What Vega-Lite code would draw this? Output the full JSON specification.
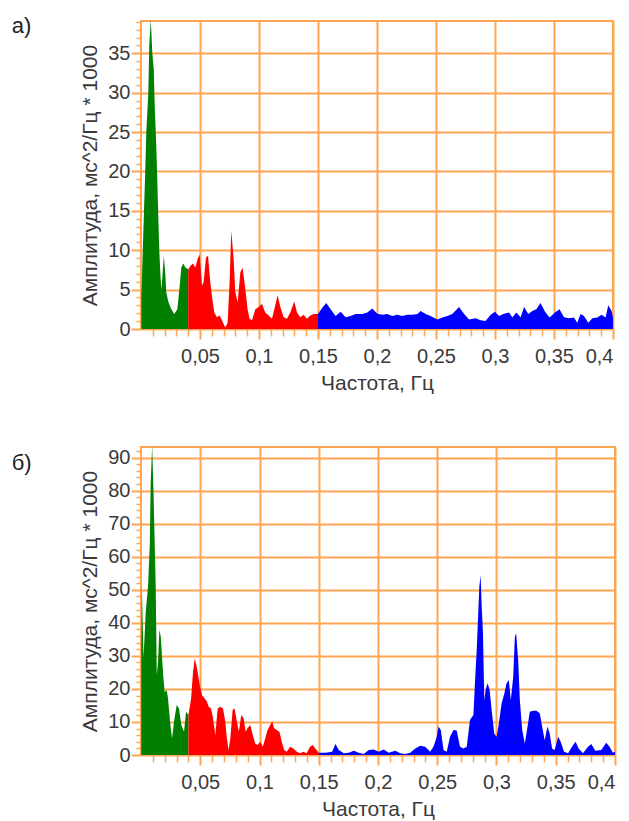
{
  "$schema": "https://vega.github.io/schema/vega-lite/v6.json",
  "background": "white",
  "padding": {"left": 10, "top": 14, "right": 5, "bottom": 2},
  "spacing": 52,
  "config": {
    "view": {"stroke": "#FFA552", "strokeWidth": 2},
    "axis": {
      "domain": false,
      "gridColor": "#FFA552",
      "gridWidth": 2,
      "tickColor": "#FFA552",
      "labelFont": "Liberation Sans",
      "labelFontSize": 20,
      "labelColor": "#3a3a3a",
      "labelOverlap": false,
      "titleFont": "Liberation Sans",
      "titleFontSize": 21,
      "titleFontWeight": "normal",
      "titleColor": "#3a3a3a"
    },
    "title": {"font": "Liberation Sans", "fontSize": 22, "fontWeight": "normal", "color": "#222222"}
  },
  "datasets": {
    "a": [
      {"f":0.0003,"v":4,"b":"VLF"},{"f":0.0019,"v":12,"b":"VLF"},{"f":0.0036,"v":20,"b":"VLF"},{"f":0.0045,"v":25,"b":"VLF"},{"f":0.0062,"v":30,"b":"VLF"},{"f":0.007,"v":36,"b":"VLF"},{"f":0.0083,"v":39.3,"b":"VLF"},{"f":0.0096,"v":35,"b":"VLF"},{"f":0.0108,"v":33,"b":"VLF"},{"f":0.0117,"v":28,"b":"VLF"},{"f":0.013,"v":23,"b":"VLF"},{"f":0.0138,"v":19,"b":"VLF"},{"f":0.0147,"v":14,"b":"VLF"},{"f":0.0155,"v":10,"b":"VLF"},{"f":0.0164,"v":7,"b":"VLF"},{"f":0.0172,"v":5,"b":"VLF"},{"f":0.0181,"v":6.5,"b":"VLF"},{"f":0.0193,"v":9.3,"b":"VLF"},{"f":0.0206,"v":7,"b":"VLF"},{"f":0.0214,"v":4.7,"b":"VLF"},{"f":0.0231,"v":3.5,"b":"VLF"},{"f":0.0257,"v":2.5,"b":"VLF"},{"f":0.0282,"v":1.9,"b":"VLF"},{"f":0.0308,"v":2.5,"b":"VLF"},{"f":0.0325,"v":5,"b":"VLF"},{"f":0.0342,"v":7.8,"b":"VLF"},{"f":0.0359,"v":8.3,"b":"VLF"},{"f":0.0376,"v":7.8,"b":"VLF"},{"f":0.04,"v":7.6,"b":"VLF"},
      {"f":0.04,"v":7.6,"b":"LF"},{"f":0.0418,"v":8.0,"b":"LF"},{"f":0.0441,"v":8.3,"b":"LF"},{"f":0.046,"v":7.8,"b":"LF"},{"f":0.048,"v":8.9,"b":"LF"},{"f":0.0497,"v":9.5,"b":"LF"},{"f":0.0517,"v":5.5,"b":"LF"},{"f":0.0531,"v":6.0,"b":"LF"},{"f":0.0551,"v":9.1,"b":"LF"},{"f":0.0568,"v":9.3,"b":"LF"},{"f":0.0587,"v":6.0,"b":"LF"},{"f":0.0601,"v":4.2,"b":"LF"},{"f":0.0621,"v":2.1,"b":"LF"},{"f":0.0644,"v":1.5,"b":"LF"},{"f":0.0666,"v":1.7,"b":"LF"},{"f":0.0686,"v":1.1,"b":"LF"},{"f":0.0714,"v":0.2,"b":"LF"},{"f":0.0734,"v":0.8,"b":"LF"},{"f":0.0751,"v":6.0,"b":"LF"},{"f":0.0765,"v":12.5,"b":"LF"},{"f":0.0785,"v":8.9,"b":"LF"},{"f":0.0799,"v":4.7,"b":"LF"},{"f":0.0819,"v":3.4,"b":"LF"},{"f":0.0842,"v":7.2,"b":"LF"},{"f":0.0861,"v":7.8,"b":"LF"},{"f":0.0884,"v":5.1,"b":"LF"},{"f":0.0903,"v":2.5,"b":"LF"},{"f":0.092,"v":1.3,"b":"LF"},{"f":0.0941,"v":1.1,"b":"LF"},{"f":0.0969,"v":2.5,"b":"LF"},{"f":0.0997,"v":2.8,"b":"LF"},{"f":0.1025,"v":3.2,"b":"LF"},{"f":0.1053,"v":2.1,"b":"LF"},{"f":0.1081,"v":1.7,"b":"LF"},{"f":0.111,"v":1.3,"b":"LF"},{"f":0.1138,"v":3.0,"b":"LF"},{"f":0.1158,"v":4.3,"b":"LF"},{"f":0.1181,"v":2.8,"b":"LF"},{"f":0.1209,"v":1.5,"b":"LF"},{"f":0.1237,"v":1.3,"b":"LF"},{"f":0.1265,"v":2.1,"b":"LF"},{"f":0.1299,"v":3.5,"b":"LF"},{"f":0.1322,"v":2.1,"b":"LF"},{"f":0.135,"v":1.5,"b":"LF"},{"f":0.1378,"v":1.8,"b":"LF"},{"f":0.1407,"v":1.3,"b":"LF"},{"f":0.1435,"v":1.7,"b":"LF"},{"f":0.1463,"v":1.9,"b":"LF"},{"f":0.15,"v":1.9,"b":"LF"},
      {"f":0.15,"v":1.9,"b":"HF"},{"f":0.1536,"v":2.7,"b":"HF"},{"f":0.157,"v":3.3,"b":"HF"},{"f":0.1607,"v":2.5,"b":"HF"},{"f":0.1649,"v":1.65,"b":"HF"},{"f":0.1692,"v":2.2,"b":"HF"},{"f":0.1734,"v":1.5,"b":"HF"},{"f":0.1776,"v":1.65,"b":"HF"},{"f":0.1819,"v":1.9,"b":"HF"},{"f":0.1875,"v":1.9,"b":"HF"},{"f":0.1918,"v":2.1,"b":"HF"},{"f":0.196,"v":2.6,"b":"HF"},{"f":0.2003,"v":1.95,"b":"HF"},{"f":0.2045,"v":1.8,"b":"HF"},{"f":0.2087,"v":1.9,"b":"HF"},{"f":0.213,"v":1.65,"b":"HF"},{"f":0.2172,"v":1.8,"b":"HF"},{"f":0.2214,"v":1.65,"b":"HF"},{"f":0.2257,"v":1.8,"b":"HF"},{"f":0.2299,"v":1.8,"b":"HF"},{"f":0.2342,"v":1.9,"b":"HF"},{"f":0.237,"v":2.3,"b":"HF"},{"f":0.2412,"v":1.9,"b":"HF"},{"f":0.2454,"v":1.65,"b":"HF"},{"f":0.2511,"v":1.2,"b":"HF"},{"f":0.2553,"v":1.45,"b":"HF"},{"f":0.2596,"v":1.65,"b":"HF"},{"f":0.2638,"v":1.9,"b":"HF"},{"f":0.2695,"v":2.8,"b":"HF"},{"f":0.2737,"v":1.95,"b":"HF"},{"f":0.278,"v":1.2,"b":"HF"},{"f":0.2836,"v":1.35,"b":"HF"},{"f":0.2878,"v":1.1,"b":"HF"},{"f":0.292,"v":1.0,"b":"HF"},{"f":0.2963,"v":1.8,"b":"HF"},{"f":0.3,"v":2.2,"b":"HF"},{"f":0.3034,"v":1.65,"b":"HF"},{"f":0.3076,"v":1.95,"b":"HF"},{"f":0.3119,"v":2.1,"b":"HF"},{"f":0.3147,"v":1.45,"b":"HF"},{"f":0.318,"v":2.1,"b":"HF"},{"f":0.3217,"v":1.5,"b":"HF"},{"f":0.3246,"v":2.8,"b":"HF"},{"f":0.3282,"v":1.9,"b":"HF"},{"f":0.3316,"v":2.3,"b":"HF"},{"f":0.335,"v":2.5,"b":"HF"},{"f":0.3386,"v":3.3,"b":"HF"},{"f":0.3424,"v":2.2,"b":"HF"},{"f":0.3463,"v":1.45,"b":"HF"},{"f":0.3508,"v":2.1,"b":"HF"},{"f":0.3547,"v":2.5,"b":"HF"},{"f":0.3585,"v":1.5,"b":"HF"},{"f":0.3627,"v":1.35,"b":"HF"},{"f":0.3669,"v":1.45,"b":"HF"},{"f":0.3697,"v":0.8,"b":"HF"},{"f":0.3725,"v":1.9,"b":"HF"},{"f":0.3754,"v":1.65,"b":"HF"},{"f":0.3791,"v":0.8,"b":"HF"},{"f":0.3825,"v":1.35,"b":"HF"},{"f":0.3867,"v":1.45,"b":"HF"},{"f":0.3903,"v":1.8,"b":"HF"},{"f":0.3937,"v":1.45,"b":"HF"},{"f":0.396,"v":3.0,"b":"HF"},{"f":0.3988,"v":2.3,"b":"HF"},{"f":0.4,"v":1.45,"b":"HF"}
    ],
    "b": [
      {"f":0.0002,"v":30,"b":"VLF"},{"f":0.0007,"v":51.4,"b":"VLF"},{"f":0.0021,"v":29.3,"b":"VLF"},{"f":0.004,"v":43.3,"b":"VLF"},{"f":0.006,"v":51.4,"b":"VLF"},{"f":0.0074,"v":63.5,"b":"VLF"},{"f":0.0082,"v":82.6,"b":"VLF"},{"f":0.0094,"v":93.5,"b":"VLF"},{"f":0.0105,"v":80.6,"b":"VLF"},{"f":0.0116,"v":63.5,"b":"VLF"},{"f":0.0124,"v":51.4,"b":"VLF"},{"f":0.0133,"v":24.2,"b":"VLF"},{"f":0.0144,"v":28.2,"b":"VLF"},{"f":0.0155,"v":37.8,"b":"VLF"},{"f":0.0167,"v":35.8,"b":"VLF"},{"f":0.0178,"v":29.3,"b":"VLF"},{"f":0.0189,"v":23.2,"b":"VLF"},{"f":0.02,"v":19.1,"b":"VLF"},{"f":0.0217,"v":19.6,"b":"VLF"},{"f":0.0228,"v":17.1,"b":"VLF"},{"f":0.0245,"v":10.1,"b":"VLF"},{"f":0.0262,"v":5.0,"b":"VLF"},{"f":0.0279,"v":10.1,"b":"VLF"},{"f":0.0301,"v":15.1,"b":"VLF"},{"f":0.0321,"v":14.1,"b":"VLF"},{"f":0.034,"v":9.1,"b":"VLF"},{"f":0.0363,"v":7.0,"b":"VLF"},{"f":0.038,"v":13.1,"b":"VLF"},{"f":0.04,"v":12.1,"b":"VLF"},
      {"f":0.04,"v":12.1,"b":"LF"},{"f":0.0423,"v":17.1,"b":"LF"},{"f":0.0439,"v":25.2,"b":"LF"},{"f":0.0454,"v":29.3,"b":"LF"},{"f":0.0473,"v":26.2,"b":"LF"},{"f":0.0496,"v":21.2,"b":"LF"},{"f":0.0515,"v":18.1,"b":"LF"},{"f":0.0538,"v":17.1,"b":"LF"},{"f":0.0557,"v":16.1,"b":"LF"},{"f":0.0571,"v":14.6,"b":"LF"},{"f":0.0591,"v":14.1,"b":"LF"},{"f":0.0608,"v":11.1,"b":"LF"},{"f":0.0627,"v":6.0,"b":"LF"},{"f":0.0647,"v":14.1,"b":"LF"},{"f":0.0669,"v":14.6,"b":"LF"},{"f":0.0692,"v":14.1,"b":"LF"},{"f":0.0711,"v":10.1,"b":"LF"},{"f":0.0725,"v":5.0,"b":"LF"},{"f":0.0739,"v":1.5,"b":"LF"},{"f":0.0754,"v":5.0,"b":"LF"},{"f":0.0773,"v":13.6,"b":"LF"},{"f":0.079,"v":14.1,"b":"LF"},{"f":0.0809,"v":10.1,"b":"LF"},{"f":0.0826,"v":7.0,"b":"LF"},{"f":0.0846,"v":12.1,"b":"LF"},{"f":0.0866,"v":11.1,"b":"LF"},{"f":0.0883,"v":7.0,"b":"LF"},{"f":0.0899,"v":8.1,"b":"LF"},{"f":0.0922,"v":9.1,"b":"LF"},{"f":0.0944,"v":6.0,"b":"LF"},{"f":0.0964,"v":3.5,"b":"LF"},{"f":0.0983,"v":3.0,"b":"LF"},{"f":0.1006,"v":4.0,"b":"LF"},{"f":0.1028,"v":2.5,"b":"LF"},{"f":0.1048,"v":5.0,"b":"LF"},{"f":0.1068,"v":7.6,"b":"LF"},{"f":0.109,"v":9.1,"b":"LF"},{"f":0.1107,"v":10.1,"b":"LF"},{"f":0.1124,"v":8.1,"b":"LF"},{"f":0.1146,"v":7.6,"b":"LF"},{"f":0.1168,"v":7.0,"b":"LF"},{"f":0.1188,"v":4.0,"b":"LF"},{"f":0.1208,"v":1.5,"b":"LF"},{"f":0.123,"v":1.0,"b":"LF"},{"f":0.1258,"v":2.5,"b":"LF"},{"f":0.1286,"v":2.0,"b":"LF"},{"f":0.1315,"v":1.0,"b":"LF"},{"f":0.1342,"v":0.5,"b":"LF"},{"f":0.1371,"v":1.0,"b":"LF"},{"f":0.1398,"v":0.5,"b":"LF"},{"f":0.1426,"v":2.5,"b":"LF"},{"f":0.1449,"v":3.0,"b":"LF"},{"f":0.1471,"v":2.0,"b":"LF"},{"f":0.15,"v":0.7,"b":"LF"},
      {"f":0.15,"v":0.7,"b":"HF"},{"f":0.1557,"v":0.7,"b":"HF"},{"f":0.1613,"v":1.0,"b":"HF"},{"f":0.1641,"v":3.3,"b":"HF"},{"f":0.1669,"v":1.5,"b":"HF"},{"f":0.1711,"v":0.5,"b":"HF"},{"f":0.1754,"v":0.7,"b":"HF"},{"f":0.1796,"v":1.3,"b":"HF"},{"f":0.1838,"v":0.7,"b":"HF"},{"f":0.188,"v":0.3,"b":"HF"},{"f":0.1922,"v":1.5,"b":"HF"},{"f":0.1964,"v":1.7,"b":"HF"},{"f":0.2006,"v":1.0,"b":"HF"},{"f":0.2048,"v":1.7,"b":"HF"},{"f":0.209,"v":0.7,"b":"HF"},{"f":0.2146,"v":1.3,"b":"HF"},{"f":0.2188,"v":0.5,"b":"HF"},{"f":0.223,"v":0.3,"b":"HF"},{"f":0.2272,"v":0.7,"b":"HF"},{"f":0.2314,"v":2.0,"b":"HF"},{"f":0.2356,"v":2.8,"b":"HF"},{"f":0.2398,"v":2.5,"b":"HF"},{"f":0.244,"v":1.0,"b":"HF"},{"f":0.2468,"v":2.5,"b":"HF"},{"f":0.2496,"v":5.5,"b":"HF"},{"f":0.251,"v":8.6,"b":"HF"},{"f":0.253,"v":7.6,"b":"HF"},{"f":0.2553,"v":1.5,"b":"HF"},{"f":0.258,"v":1.0,"b":"HF"},{"f":0.2608,"v":5.5,"b":"HF"},{"f":0.2637,"v":7.6,"b":"HF"},{"f":0.2664,"v":7.4,"b":"HF"},{"f":0.2692,"v":2.5,"b":"HF"},{"f":0.2721,"v":2.0,"b":"HF"},{"f":0.2749,"v":2.5,"b":"HF"},{"f":0.2776,"v":10.6,"b":"HF"},{"f":0.2805,"v":12.1,"b":"HF"},{"f":0.2818,"v":21.7,"b":"HF"},{"f":0.2833,"v":31.7,"b":"HF"},{"f":0.2847,"v":43.8,"b":"HF"},{"f":0.2855,"v":50.9,"b":"HF"},{"f":0.2866,"v":54.4,"b":"HF"},{"f":0.2875,"v":44.9,"b":"HF"},{"f":0.2886,"v":36.8,"b":"HF"},{"f":0.2897,"v":16.6,"b":"HF"},{"f":0.2908,"v":19.7,"b":"HF"},{"f":0.2925,"v":21.7,"b":"HF"},{"f":0.2942,"v":19.7,"b":"HF"},{"f":0.2959,"v":13.6,"b":"HF"},{"f":0.2981,"v":6.5,"b":"HF"},{"f":0.3001,"v":5.5,"b":"HF"},{"f":0.302,"v":9.6,"b":"HF"},{"f":0.3043,"v":15.6,"b":"HF"},{"f":0.3066,"v":18.6,"b":"HF"},{"f":0.3085,"v":21.7,"b":"HF"},{"f":0.3104,"v":22.7,"b":"HF"},{"f":0.3121,"v":16.6,"b":"HF"},{"f":0.3141,"v":23.7,"b":"HF"},{"f":0.3155,"v":35.8,"b":"HF"},{"f":0.3166,"v":36.8,"b":"HF"},{"f":0.3183,"v":28.7,"b":"HF"},{"f":0.3197,"v":16.6,"b":"HF"},{"f":0.3217,"v":7.6,"b":"HF"},{"f":0.3239,"v":3.5,"b":"HF"},{"f":0.3262,"v":8.6,"b":"HF"},{"f":0.3281,"v":13.1,"b":"HF"},{"f":0.331,"v":13.4,"b":"HF"},{"f":0.3337,"v":13.4,"b":"HF"},{"f":0.3365,"v":12.6,"b":"HF"},{"f":0.3385,"v":8.6,"b":"HF"},{"f":0.3407,"v":4.5,"b":"HF"},{"f":0.343,"v":8.6,"b":"HF"},{"f":0.3449,"v":6.5,"b":"HF"},{"f":0.3469,"v":2.0,"b":"HF"},{"f":0.3491,"v":1.5,"b":"HF"},{"f":0.352,"v":5.5,"b":"HF"},{"f":0.3542,"v":4.0,"b":"HF"},{"f":0.357,"v":1.0,"b":"HF"},{"f":0.3604,"v":0.5,"b":"HF"},{"f":0.3646,"v":3.0,"b":"HF"},{"f":0.3668,"v":4.0,"b":"HF"},{"f":0.3693,"v":2.0,"b":"HF"},{"f":0.373,"v":0.5,"b":"HF"},{"f":0.3772,"v":2.5,"b":"HF"},{"f":0.38,"v":3.3,"b":"HF"},{"f":0.3834,"v":1.3,"b":"HF"},{"f":0.3884,"v":1.5,"b":"HF"},{"f":0.3926,"v":3.7,"b":"HF"},{"f":0.3954,"v":2.5,"b":"HF"},{"f":0.3982,"v":0.7,"b":"HF"},{"f":0.4,"v":1.0,"b":"HF"}
    ]
  },
  "vconcat": [
    {
      "title": {"text": "а)", "anchor": "start", "frame": "bounds", "orient": "top", "offset": 0, "dx": -68, "dy": 17},
      "width": 472,
      "height": 308,
      "data": {"name": "a"},
      "mark": {"type": "area", "interpolate": "linear", "clip": true},
      "encoding": {
        "x": {
          "field": "f", "type": "quantitative",
          "scale": {"domain": [0, 0.4], "nice": false, "zero": false},
          "axis": {
            "title": "Частота, Гц",
            "titlePadding": 6,
            "values": [0.01,0.02,0.03,0.04,0.05,0.06,0.07,0.08,0.09,0.1,0.11,0.12,0.13,0.14,0.15,0.16,0.17,0.18,0.19,0.2,0.21,0.22,0.23,0.24,0.25,0.26,0.27,0.28,0.29,0.3,0.31,0.32,0.33,0.34,0.35,0.36,0.37,0.38,0.39,0.4],
            "labelExpr": "abs(datum.value*20-round(datum.value*20))<0.001 ? replace(format(datum.value, '.2~f'), '.', ',') : ''",
            "labelPadding": 7,
            "labelFontSize": {"condition": {"test": "abs(datum.value*20-round(datum.value*20))<0.001", "value": 20}, "value": 0},
            "tickSize": {"condition": {"test": "abs(datum.value*20-round(datum.value*20))<0.001", "value": 10}, "value": 7},
            "tickWidth": {"condition": {"test": "abs(datum.value*20-round(datum.value*20))<0.001", "value": 2}, "value": 1.5},
            "gridOpacity": {"condition": {"test": "abs(datum.value*20-round(datum.value*20))<0.001", "value": 1}, "value": 0}
          }
        },
        "y": {
          "field": "v", "type": "quantitative", "stack": null,
          "scale": {"domain": [0, 39.1], "nice": false},
          "axis": {
            "title": "Амплитуда, мс^2/Гц * 1000",
            "titlePadding": 7,
            "values": [0,1,2,3,4,5,6,7,8,9,10,11,12,13,14,15,16,17,18,19,20,21,22,23,24,25,26,27,28,29,30,31,32,33,34,35,36,37,38,39],
            "labelExpr": "datum.value % 5 === 0 ? datum.label : ''",
            "labelPadding": 1,
            "labelFontSize": {"condition": {"test": "datum.value % 5 === 0", "value": 20}, "value": 0},
            "tickSize": {"condition": {"test": "datum.value % 5 === 0", "value": 10}, "value": 5},
            "tickWidth": {"condition": {"test": "datum.value % 5 === 0", "value": 2}, "value": 1.5},
            "gridOpacity": {"condition": {"test": "datum.value % 5 === 0", "value": 1}, "value": 0}
          }
        },
        "color": {
          "field": "b", "type": "nominal",
          "scale": {"domain": ["VLF", "LF", "HF"], "range": ["#007F00", "#FF0000", "#0000FF"]},
          "legend": null
        }
      }
    },
    {
      "title": {"text": "б)", "anchor": "start", "frame": "bounds", "orient": "top", "offset": 0, "dx": -68, "dy": 28},
      "width": 474,
      "height": 308,
      "data": {"name": "b"},
      "mark": {"type": "area", "interpolate": "linear", "clip": true},
      "encoding": {
        "x": {
          "field": "f", "type": "quantitative",
          "scale": {"domain": [0, 0.4], "nice": false, "zero": false},
          "axis": {
            "title": "Частота, Гц",
            "titlePadding": 6,
            "values": [0.01,0.02,0.03,0.04,0.05,0.06,0.07,0.08,0.09,0.1,0.11,0.12,0.13,0.14,0.15,0.16,0.17,0.18,0.19,0.2,0.21,0.22,0.23,0.24,0.25,0.26,0.27,0.28,0.29,0.3,0.31,0.32,0.33,0.34,0.35,0.36,0.37,0.38,0.39,0.4],
            "labelExpr": "abs(datum.value*20-round(datum.value*20))<0.001 ? replace(format(datum.value, '.2~f'), '.', ',') : ''",
            "labelPadding": 7,
            "labelFontSize": {"condition": {"test": "abs(datum.value*20-round(datum.value*20))<0.001", "value": 20}, "value": 0},
            "tickSize": {"condition": {"test": "abs(datum.value*20-round(datum.value*20))<0.001", "value": 10}, "value": 7},
            "tickWidth": {"condition": {"test": "abs(datum.value*20-round(datum.value*20))<0.001", "value": 2}, "value": 1.5},
            "gridOpacity": {"condition": {"test": "abs(datum.value*20-round(datum.value*20))<0.001", "value": 1}, "value": 0}
          }
        },
        "y": {
          "field": "v", "type": "quantitative", "stack": null,
          "scale": {"domain": [0, 93.2], "nice": false},
          "axis": {
            "title": "Амплитуда, мс^2/Гц * 1000",
            "titlePadding": 7,
            "values": [0,2,4,6,8,10,12,14,16,18,20,22,24,26,28,30,32,34,36,38,40,42,44,46,48,50,52,54,56,58,60,62,64,66,68,70,72,74,76,78,80,82,84,86,88,90,92],
            "labelExpr": "datum.value % 10 === 0 ? datum.label : ''",
            "labelPadding": 1,
            "labelFontSize": {"condition": {"test": "datum.value % 10 === 0", "value": 20}, "value": 0},
            "tickSize": {"condition": {"test": "datum.value % 10 === 0", "value": 10}, "value": 5},
            "tickWidth": {"condition": {"test": "datum.value % 10 === 0", "value": 2}, "value": 1.5},
            "gridOpacity": {"condition": {"test": "datum.value % 10 === 0", "value": 1}, "value": 0}
          }
        },
        "color": {
          "field": "b", "type": "nominal",
          "scale": {"domain": ["VLF", "LF", "HF"], "range": ["#007F00", "#FF0000", "#0000FF"]},
          "legend": null
        }
      }
    }
  ]
}
